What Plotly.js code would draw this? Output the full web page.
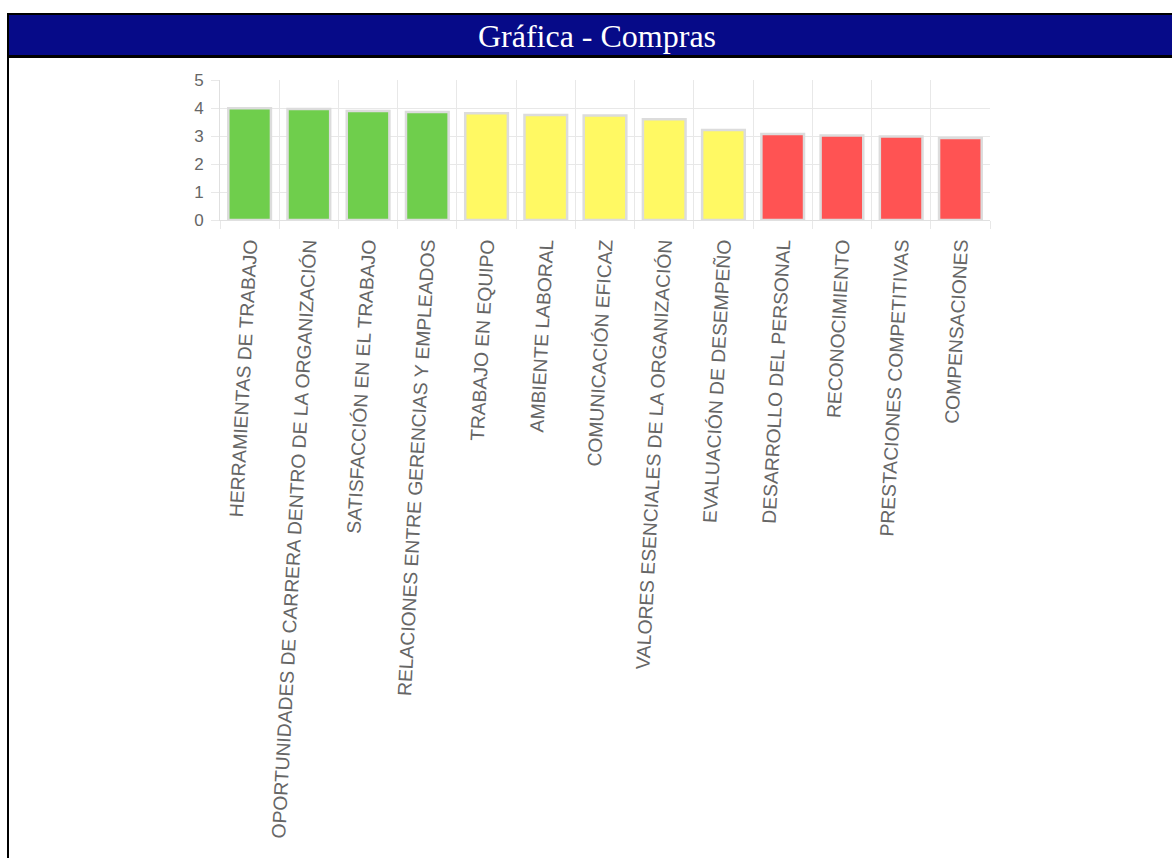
<!DOCTYPE html>
<html>
<head>
<meta charset="utf-8">
<script src="https://cdn.plot.ly/plotly-3.0.1.min.js"></script>
<style>
  html, body { margin: 0; padding: 0; background: #ffffff; }
  #frame { position: absolute; left: 0; top: 0; width: 1172px; height: 858px; overflow: hidden; }
  #leftline { position: absolute; left: 7px; top: 13px; width: 2px; height: 845px; background: #000; z-index: 3; }
  #header { position: absolute; left: 7px; top: 13px; width: 1165px; height: 40px; background: #060a88;
            border-top: 2px solid #000; border-bottom: 3px solid #000; z-index: 0; }
  #chart { position: absolute; left: 0; top: 0; width: 1172px; height: 858px; z-index: 2; }
</style>
</head>
<body>
<div id="frame">
  <div id="header"></div>
  <div id="leftline"></div>
  <div id="chart"></div>
</div>
<script>
const categories = [
  "HERRAMIENTAS DE TRABAJO",
  "OPORTUNIDADES DE CARRERA DENTRO DE LA ORGANIZACIÓN",
  "SATISFACCIÓN EN EL TRABAJO",
  "RELACIONES ENTRE GERENCIAS Y EMPLEADOS",
  "TRABAJO EN EQUIPO",
  "AMBIENTE LABORAL",
  "COMUNICACIÓN EFICAZ",
  "VALORES ESENCIALES DE LA ORGANIZACIÓN",
  "EVALUACIÓN DE DESEMPEÑO",
  "DESARROLLO DEL PERSONAL",
  "RECONOCIMIENTO",
  "PRESTACIONES COMPETITIVAS",
  "COMPENSACIONES"
];
const values = [3.99, 3.96, 3.89, 3.86, 3.81, 3.75, 3.73, 3.60, 3.21, 3.07, 3.02, 2.98, 2.93];
const barColors = ["#6fce4c", "#6fce4c", "#6fce4c", "#6fce4c",
                   "#fff963", "#fff963", "#fff963", "#fff963", "#fff963",
                   "#ff5353", "#ff5353", "#ff5353", "#ff5353"];
const yTicks = [0, 1, 2, 3, 4, 5];
const chartTitle = "Gráfica - Compras";

const trace = {
  type: "bar",
  x: categories,
  y: values,
  marker: { color: barColors, line: { color: "#dcdcdc", width: 2.5 } },
  hoverinfo: "x+y"
};

const gridColor = "#e8e8e8";
const layout = {
  width: 1172,
  height: 858,
  paper_bgcolor: "rgba(0,0,0,0)",
  plot_bgcolor: "rgba(0,0,0,0)",
  margin: { l: 220, r: 181.5, t: 79.5, b: 638, pad: 0 },
  showlegend: false,
  bargap: 0.28,
  title: {
    text: chartTitle,
    font: { family: "Liberation Serif, 'Times New Roman', serif", size: 32, color: "#ffffff" },
    xref: "container", yref: "container",
    x: 597 / 1172, xanchor: "center",
    y: 1 - 36 / 858, yanchor: "middle"
  },
  xaxis: {
    type: "category",
    tickson: "boundaries",
    showgrid: true,
    gridcolor: gridColor,
    gridwidth: 1,
    ticks: "outside",
    ticklen: 8,
    tickcolor: gridColor,
    showline: true,
    linecolor: "#e0e0e0",
    linewidth: 1,
    tickangle: -87,
    tickfont: { family: "Liberation Sans, Arial, sans-serif", size: 19.3, color: "#666666" },
    ticklabelstandoff: 5,
    ticklabelshift: -2,
    automargin: false,
    fixedrange: true
  },
  yaxis: {
    range: [0, 5],
    tickvals: yTicks,
    ticktext: yTicks.map(String),
    showgrid: true,
    gridcolor: gridColor,
    gridwidth: 1,
    zeroline: false,
    ticks: "outside",
    ticklen: 8,
    tickcolor: gridColor,
    showline: true,
    linecolor: "#e0e0e0",
    linewidth: 1,
    tickfont: { family: "Liberation Sans, Arial, sans-serif", size: 17, color: "#666666" },
    ticklabelstandoff: 4,
    automargin: false,
    fixedrange: true
  }
};

Plotly.newPlot("chart", [trace], layout, { displayModeBar: false, staticPlot: false });
</script>
</body>
</html>
